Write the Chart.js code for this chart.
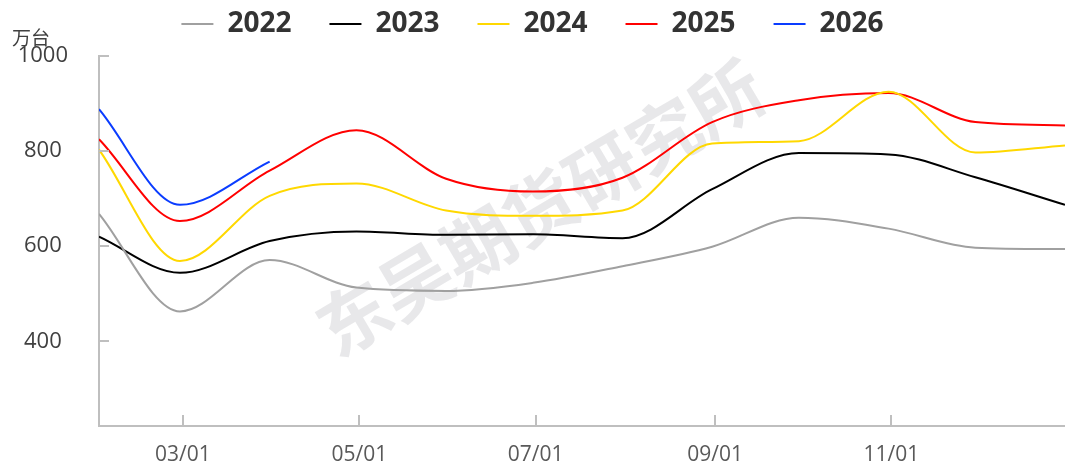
<!DOCTYPE html>
<html>
<head>
<meta charset="utf-8">
<script src="https://cdn.jsdelivr.net/npm/chart.js@4"></script>
<style>
  body { margin: 0; background: #fff; }
  #wrap { width: 1065px; height: 466px; }
</style>
</head>
<body>
<div id="wrap"><canvas id="c" width="1065" height="466"></canvas></div>
<script>
// month-end dates, x = days after 01/31
const months = ['01/31','02/28','03/31','04/30','05/31','06/30','07/31','08/31','09/30','10/31','11/30','12/31'];
const dayIndex = [0, 28, 59, 89, 120, 150, 181, 212, 242, 273, 303, 334];

// tick labels on the x axis and where they sit (days after 01/31)
const xTickLabels = ['03/01', '05/01', '07/01', '09/01', '11/01'];
const xTickDays = [29, 90, 151, 213, 274];
const yTicks = [400, 600, 800, 1000];

const years = ['2022', '2023', '2024', '2025', '2026'];
const v2022 = [668, 463, 571, 513, 506, 523, 558, 599, 660, 637, 597, 594];
const v2023 = [620, 544, 611, 631, 624, 625, 617, 720, 796, 793, 745, 687];
const v2024 = [803, 569, 706, 732, 675, 664, 675, 816, 821, 925, 797, 812];
const v2025 = [825, 653, 759, 844, 742, 715, 744, 861, 907, 922, 861, 854];
const v2026 = [888, 687, 778];

const colors = ['#a0a0a0', '#000000', '#ffd800', '#ff0000', '#0a3cff'];
const allValues = [v2022, v2023, v2024, v2025, v2026];

function toPoints(vals) {
  return vals.map((v, i) => ({ x: dayIndex[i], y: v }));
}

const datasets = years.map((y, i) => ({
  label: y,
  data: toPoints(allValues[i]),
  borderColor: colors[i],
  backgroundColor: colors[i],
  borderWidth: 2,
  pointRadius: 0,
  cubicInterpolationMode: 'monotone',
  fill: false
}));

const axisColor = '#bfbfbf';

// watermark behind the lines, inner tick marks, unit label
const decor = {
  id: 'decor',
  beforeUpdate(chart) {
    // fixed legend band so the plot starts where the original does,
    // and legend row drawn higher up in that band
    const lg = chart.legend;
    if (lg && !lg._fixed) {
      const fit = lg.fit;
      const draw = lg.draw;
      lg.fit = function () { fit.call(this); this.height = 56; };
      lg.draw = function () {
        const top = this.top;
        this.top = top - 28;
        draw.call(this);
        this.top = top;
      };
      lg._fixed = true;
    }
  },
  beforeDatasetsDraw(chart) {
    const ctx = chart.ctx;
    ctx.save();
    ctx.translate(540, 208);
    ctx.rotate(-30.5 * Math.PI / 180);
    ctx.font = 'bold 72px "Noto Sans CJK SC"';
    ctx.fillStyle = 'rgba(200,200,204,0.42)';
    ctx.textAlign = 'center';
    ctx.textBaseline = 'middle';
    ctx.fillText('东吴期货研究所', 0, 0);
    ctx.restore();
  },
  afterDraw(chart) {
    const ctx = chart.ctx;
    const xs = chart.scales.x, ys = chart.scales.y;
    const area = chart.chartArea;
    ctx.save();
    ctx.strokeStyle = axisColor;
    ctx.lineWidth = 2;
    ctx.beginPath();
    yTicks.forEach(t => {
      const py = Math.round(ys.getPixelForValue(t));
      ctx.moveTo(area.left, py);
      ctx.lineTo(area.left + 10, py);
    });
    xTickDays.forEach(d => {
      const px = Math.round(xs.getPixelForValue(d));
      ctx.moveTo(px, area.bottom);
      ctx.lineTo(px, area.bottom - 11);
    });
    ctx.stroke();
    ctx.font = '19px "Noto Sans CJK SC"';
    ctx.fillStyle = '#404040';
    ctx.textBaseline = 'middle';
    ctx.fillText('万台', 12, 38);
    ctx.restore();
  }
};

new Chart(document.getElementById('c'), {
  type: 'line',
  data: { datasets: datasets },
  options: {
    responsive: false,
    animation: false,
    layout: { padding: 0 },
    plugins: {
      legend: {
        position: 'top',
        labels: {
          boxWidth: 32,
          boxHeight: 2,
          padding: 38,
          color: '#333333',
          font: { family: 'Open Sans', size: 28, weight: 'bold' },
          generateLabels(chart) {
            return chart.data.datasets.map((ds, i) => ({
              text: ds.label,
              fillStyle: ds.borderColor,
              strokeStyle: ds.borderColor,
              lineWidth: 0,
              fontColor: '#333333',
              datasetIndex: i
            }));
          }
        }
      },
      tooltip: { enabled: false }
    },
    scales: {
      x: {
        type: 'linear',
        min: 0,
        max: 334,
        afterBuildTicks(scale) {
          scale.ticks = xTickDays.map(d => ({ value: d }));
        },
        afterFit(scale) { scale.height = 40; },
        ticks: {
          autoSkip: false,
          maxRotation: 0,
          padding: 16,
          color: '#595959',
          font: { family: 'Open Sans', size: 21 },
          callback(value) {
            const k = xTickDays.indexOf(value);
            return k >= 0 ? xTickLabels[k] : '';
          }
        },
        grid: { display: false, drawTicks: false },
        border: { display: true, color: axisColor, width: 2 }
      },
      y: {
        min: 222,
        max: 1000,
        afterBuildTicks(scale) {
          scale.ticks = yTicks.map(v => ({ value: v }));
        },
        afterFit(scale) {
          scale.width = 99;
          scale.paddingTop = 0;
          scale.paddingBottom = 0;
        },
        ticks: {
          padding: 31,
          crossAlign: 'center',
          color: '#404040',
          font: { family: 'Open Sans', size: 22 },
          callback(value) { return String(value); }
        },
        grid: { display: false, drawTicks: false },
        border: { display: true, color: axisColor, width: 2 }
      }
    }
  },
  plugins: [decor]
});
</script>
</body>
</html>
